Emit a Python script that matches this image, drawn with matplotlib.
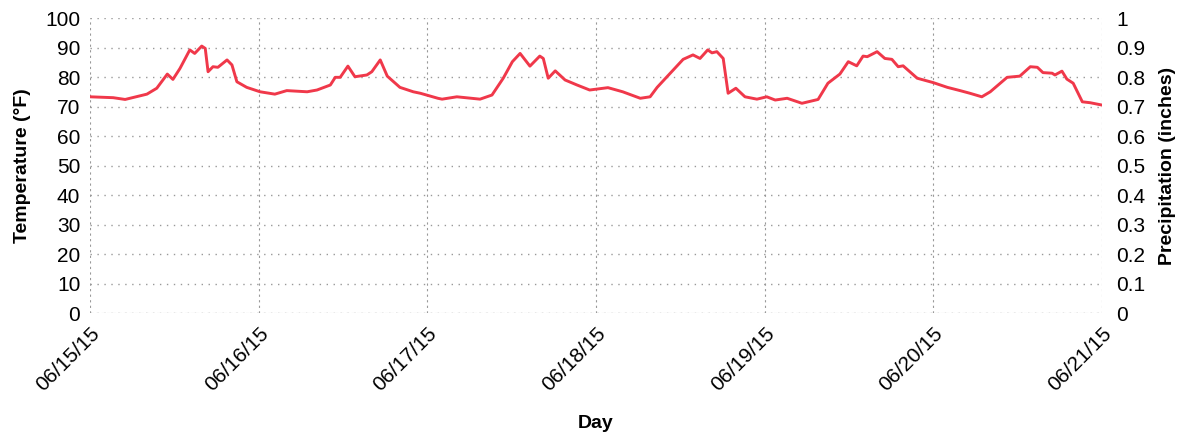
import matplotlib.pyplot as plt

plt.rcParams['font.family'] = ['Liberation Sans', 'DejaVu Sans']

# Hourly temperature readings, hours counted from midnight 06/15/15
hours = [0, 3.3, 5.0, 8.1, 9.5, 11.0, 11.8, 12.8, 14.2, 14.9, 15.9, 16.4, 16.8,
         17.5, 18.2, 19.5, 20.2, 20.9, 22.3, 24.2, 26.3, 28.0, 30.9, 32.3, 34.2,
         34.9, 35.6, 36.7, 37.7, 39.4, 40.1, 41.3, 42.3, 44.1, 46.0, 47.0, 49.5,
         50.1, 52.2, 55.5, 57.2, 58.8, 60.1, 61.2, 62.6, 64.0, 64.5, 65.2, 66.2,
         67.6, 69.3, 71.1, 73.7, 75.8, 78.3, 79.7, 80.7, 82.1, 84.4, 85.8, 86.8,
         87.9, 88.5, 89.2, 90.1, 90.8, 91.9, 93.2, 94.9, 96.3, 97.5, 99.2, 101.3,
         103.6, 105.0, 106.7, 107.9, 109.1, 110.0, 110.6, 112.0, 113.1, 114.1,
         115.0, 115.7, 117.7, 120.0, 122.0, 123.8, 125.2, 126.9, 128.1, 130.5,
         132.3, 133.8, 134.8, 135.6, 136.9, 137.3, 138.3, 139.0, 139.9, 141.2,
         142.3, 144.0]
temps = [73.3, 73.0, 72.4, 74.2, 76.2, 81.0, 79.2, 82.9, 89.2, 88.0, 90.5, 89.7, 81.8,
         83.5, 83.3, 85.8, 84.1, 78.4, 76.5, 75.0, 74.2, 75.4, 75.0, 75.6, 77.3,
         79.9, 79.9, 83.7, 80.1, 80.7, 81.8, 85.8, 80.3, 76.5, 75.0, 74.5, 72.8,
         72.5, 73.3, 72.5, 73.9, 79.6, 85.2, 88.0, 83.7, 87.1, 86.3, 79.6, 82.1,
         79.0, 77.3, 75.6, 76.4, 75.0, 72.8, 73.3, 76.5, 80.1, 86.0, 87.5, 86.3,
         89.2, 88.2, 88.6, 86.3, 74.5, 76.2, 73.3, 72.5, 73.3, 72.2, 72.8, 71.1,
         72.4, 77.9, 81.0, 85.2, 83.8, 87.1, 86.9, 88.6, 86.3, 86.0,
         83.5, 83.8, 79.6, 78.1, 76.5, 75.4, 74.5, 73.3, 75.0, 79.9,
         80.3, 83.5, 83.3, 81.5, 81.3, 80.7, 82.0, 79.3, 77.9, 71.6,
         71.3, 70.5]

day_labels = ['06/15/15', '06/16/15', '06/17/15', '06/18/15',
              '06/19/15', '06/20/15', '06/21/15']
temp_ticks = list(range(0, 101, 10))
precip_ticks = [0, 0.1, 0.2, 0.3, 0.4, 0.5, 0.6, 0.7, 0.8, 0.9, 1]

fig = plt.figure(figsize=(11.92, 4.4), dpi=100)
ax = fig.add_axes([0.0755, 0.2886, 0.849, 0.6704])

ax.plot(hours, temps, color='#f0384a', lw=2.1, solid_joinstyle='round', zorder=3)

ax.set_xlim(0, 144)
ax.set_ylim(0, 100)
ax.set_xticks([24 * i for i in range(len(day_labels))])
ax.set_xticklabels(day_labels, rotation=45, ha='right', va='top',
                   rotation_mode='anchor', fontsize=15)
ax.set_yticks(temp_ticks)
ax.set_yticklabels([str(t) for t in temp_ticks], fontsize=15)
ax.tick_params(length=0, pad=7)
ax.tick_params(axis='x', pad=8)

ax.grid(axis='y', color='#999999', linestyle=(0, (1, 4)), lw=1.0)
ax.grid(axis='x', color='#999999', linestyle=(0, (2, 3)), lw=0.8)
for s in ax.spines.values():
    s.set_visible(False)
ax.axhline(0, color='#bbbbbb', lw=0.8, linestyle=(0, (3, 2)))

ax.set_ylabel('Temperature (°F)', fontsize=14, fontweight='bold', labelpad=10)
ax.set_xlabel('Day', fontsize=14, fontweight='bold', labelpad=14)

ax2 = ax.twinx()
ax2.set_ylim(0, 1)
ax2.set_yticks(precip_ticks)
ax2.set_yticklabels([f'{p:g}' for p in precip_ticks], fontsize=15)
ax2.tick_params(length=0, pad=10)
for s in ax2.spines.values():
    s.set_visible(False)
ax2.set_ylabel('Precipitation (inches)', fontsize=14, fontweight='bold', labelpad=10)

fig.savefig('out.png', dpi=100)
